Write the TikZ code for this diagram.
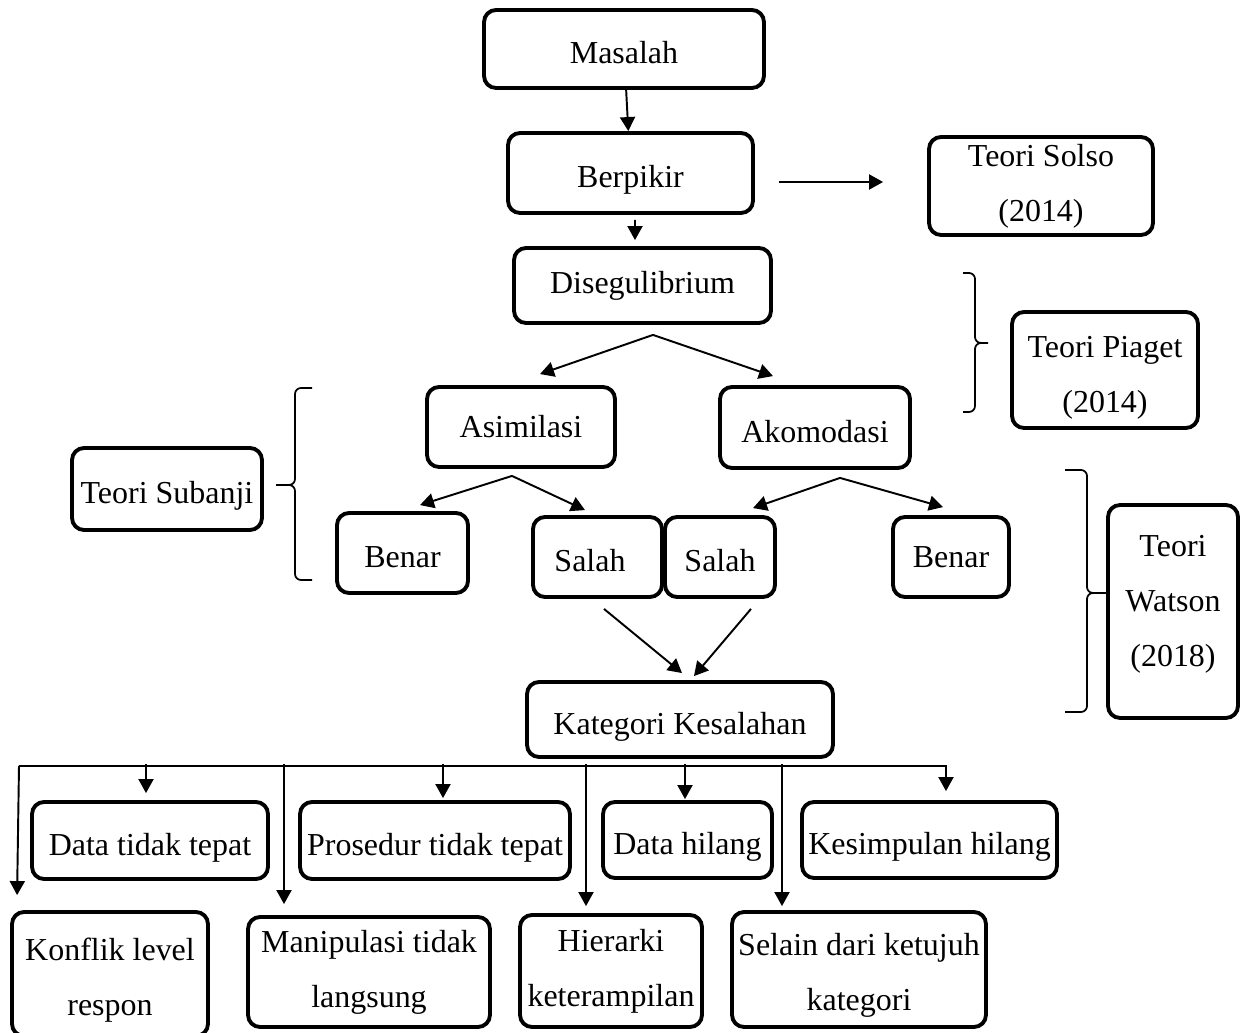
\documentclass[tikz,border=0pt]{standalone}
\usepackage{fontspec}
\setmainfont{Liberation Serif}
\usetikzlibrary{arrows.meta,calc}

\begin{document}
\begin{tikzpicture}[
    x=0.02cm,y=-0.02cm,
    every node/.style={font=\fontsize{18.2}{31.3}\selectfont,align=center,inner sep=0pt},
    bingkai/.style={draw,line width=2.2pt,rounded corners=0.24cm},
    kotak/.style={bingkai,text height=17.8pt,text depth=1pt},
    panah/.style={-{Triangle[length=0.28cm,width=0.3cm]},line width=1.1pt},
    kurung/.style={line width=1pt,rounded corners=0.12cm}
  ]
    \fill[white] (0,0) rectangle (1249,1033);
    \useasboundingbox (0,0) rectangle (1249,1033);

    % alur utama
    \node[kotak,minimum width=5.6cm,minimum height=1.56cm] (masalah) at (624,49) {Masalah};
    \node[kotak,minimum width=4.9cm,minimum height=1.6cm] (berpikir) at (630.5,173) {Berpikir};
    \node[bingkai,minimum width=4.48cm,minimum height=1.96cm] (solso) at (1041,186) {Teori Solso\\(2014)};
    \node[bingkai,minimum width=5.14cm,minimum height=1.5cm] (dis) at (642.5,285.5) {Disegulibrium};
    \node[bingkai,text height=51.7pt,text depth=3.3pt,minimum width=3.72cm,minimum height=2.32cm] (piaget) at (1105,370) {Teori Piaget\\(2014)};
    \node[bingkai,minimum width=3.76cm,minimum height=1.6cm] (asim) at (521,427) {Asimilasi};
    \node[kotak,minimum width=3.8cm,minimum height=1.62cm] (akom) at (815,427.5) {Akomodasi};
    \node[kotak,minimum width=3.8cm,minimum height=1.64cm] (subanji) at (167,489) {Teori Subanji};
    \node[kotak,minimum width=2.62cm,minimum height=1.6cm] (benarA) at (402.5,553) {Benar};
    \node[kotak,minimum width=2.58cm,minimum height=1.6cm] (salahA) at (597.5,557) {Salah\hspace{0.3cm}};
    \node[kotak,minimum width=2.2cm,minimum height=1.6cm] (salahB) at (720,557) {Salah};
    \node[bingkai,minimum width=2.32cm,minimum height=1.6cm] (benarB) at (951,557) {Benar};
    \node[bingkai,text height=66pt,text depth=3.3pt,minimum width=2.6cm,minimum height=4.26cm] (watson) at (1173,611.5) {Teori\\Watson\\(2018)};
    \node[kotak,minimum width=6.12cm,minimum height=1.5cm] (kategori) at (680,719.5) {Kategori Kesalahan};

    % kategori kesalahan
    \node[kotak,minimum width=4.72cm,minimum height=1.54cm] (datatt) at (150,840.5) {Data tidak tepat};
    \node[kotak,minimum width=5.4cm,minimum height=1.54cm] (prosedur) at (435,840.5) {Prosedur tidak tepat};
    \node[kotak,minimum width=3.38cm,minimum height=1.52cm] (hilang) at (687.5,840) {Data hilang};
    \node[kotak,minimum width=5.1cm,minimum height=1.52cm] (kesimpulan) at (929.5,840) {Kesimpulan hilang};
    \node[bingkai,text height=51.7pt,text depth=4pt,minimum width=3.92cm,minimum height=2.48cm] (konflik) at (110,974) {Konflik level\\respon};
    \node[bingkai,minimum width=4.84cm,minimum height=2.2cm] (manipulasi) at (369,972) {Manipulasi tidak\\langsung};
    \node[bingkai,minimum width=3.64cm,minimum height=2.24cm] (hierarki) at (611,971) {Hierarki\\keterampilan};
    \node[bingkai,text height=50.5pt,text depth=4pt,minimum width=5.08cm,minimum height=2.3cm] (selain) at (859,969.5) {Selain dari ketujuh\\kategori};

    \draw[panah] (masalah) -- (berpikir);
    \draw[panah] ($(berpikir.south)+(4.5,5)$) -- ($(dis.north)+(-7.5,-6)$);
    \draw[panah] ($(berpikir.east)+(24,9)$) -- ($(solso.west)+(-44,-4)$);

    \coordinate (cabangDis) at ($(dis.south)+(10.5,10)$);
    \draw[panah] (cabangDis) -- ($(asim.north)+(19,-11)$);
    \draw[panah] (cabangDis) -- ($(akom.north)+(-42,-9)$);

    \coordinate (cabangAsim) at ($(asim.south)+(-9,7)$);
    \draw[panah] (cabangAsim) -- ($(benarA.north)+(17.5,-6)$);
    \draw[panah] (cabangAsim) -- ($(salahA.north)+(-12.5,-5)$);

    \coordinate (cabangAkom) at ($(akom.south)+(25,8)$);
    \draw[panah] (cabangAkom) -- ($(salahB.north)+(33,-7)$);
    \draw[panah] (cabangAkom) -- ($(benarB.north)+(-8,-8)$);

    \draw[panah] ($(salahA.south)+(6.5,10)$) -- ($(kategori.north)+(2,-7)$);
    \draw[panah] ($(salahB.south)+(31,10)$) -- ($(kategori.north)+(14,-4)$);

    % garis cabang bawah
    \coordinate (bus) at (19,766);
    \draw[panah] (bus) -| ($(kesimpulan.north)+(16.5,-9)$);
    \draw[panah] (bus) -- ($(konflik.north west)+(7,-15)$);
    \draw[panah] ($(datatt.north)+(-4,-36)$) -- ($(datatt.north)+(-4,-7)$);
    \draw[panah] ($(manipulasi.north)+(-85,-151)$) -- ($(manipulasi.north)+(-85,-11)$);
    \draw[panah] ($(prosedur.north)+(8,-36)$) -- ($(prosedur.north)+(8,-2)$);
    \draw[panah] ($(hierarki.north)+(-25,-149)$) -- ($(hierarki.north)+(-25,-7)$);
    \draw[panah] ($(hilang.north)+(-2.5,-36)$) -- ($(hilang.north)+(-2.5,-1)$);
    \draw[panah] ($(selain.north)+(-77,-146)$) -- ($(selain.north)+(-77,-4)$);

    % kurung teori
    \draw[kurung] (963,273) -| (975,343) -- (988,343) (963,412) -| (975,343) -- (988,343);
    \draw[kurung] (1065,470) -| (1087,593) -- (1108,593) (1065,712) -| (1087,593) -- (1108,593);
    \draw[kurung] (312,388) -| (295,485) -- (276,485) (312,580) -| (295,485) -- (276,485);
  \end{tikzpicture}
\end{document}
